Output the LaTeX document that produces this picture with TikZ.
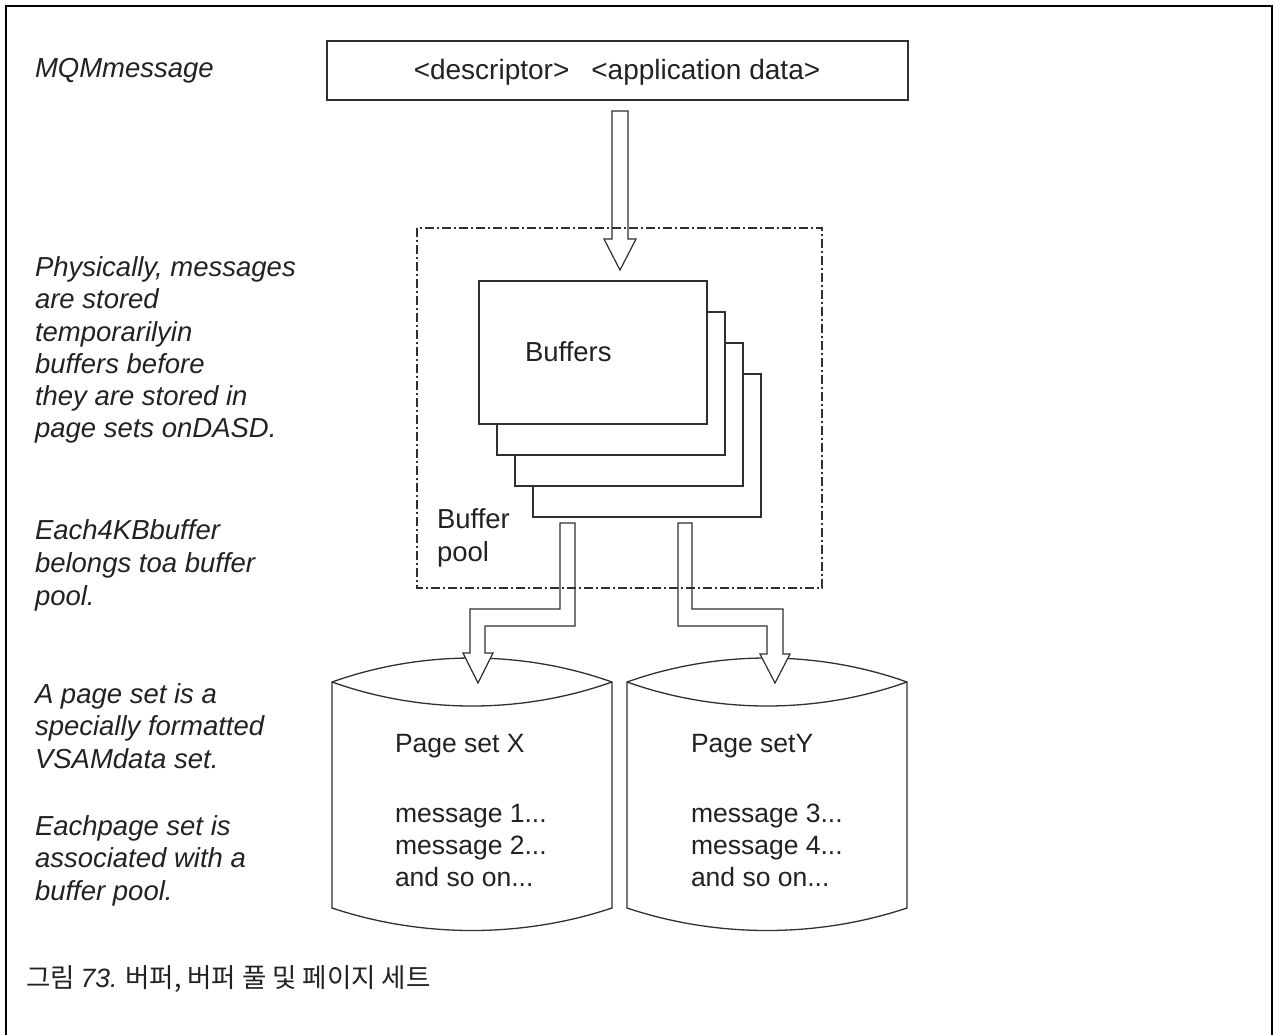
\documentclass[tikz,border=0pt]{standalone}
\usepackage{fontspec}
\setmainfont{Liberation Sans}
\newfontfamily\krfont{Noto Sans CJK KR}
\definecolor{ink}{HTML}{222222}
\definecolor{linec}{HTML}{303030}
\begin{document}
\begin{tikzpicture}[x=1pt,y=-1pt,
  every node/.style={inner sep=0pt, outer sep=0pt, text=ink},
  shape line/.style={draw=linec, line width=1.3pt, line join=miter},
  note/.style={anchor=base west, font=\fontsize{27.5}{31}\selectfont\itshape},
  body/.style={anchor=base west, font=\fontsize{26.5}{31}\selectfont},
  bufbox/.style={shape line, fill=white, rectangle, minimum width=228pt, minimum height=143pt, anchor=north west},
  blockarrow/.style={shape line, line width=1.2pt, fill=white},
  poolline/.style={draw=linec, line width=1.2pt, dash pattern=on 9pt off 3pt on 2pt off 3pt}]
\useasboundingbox (0,0) rectangle (1274,1034);
% outer frame
\draw[line width=2.6pt, black] (6,1040) -- (6,6) -- (1272,6) -- (1272,1040);

% top message box
\node[shape line, rectangle, minimum width=581pt, minimum height=59pt, anchor=north west] (msg) at (327,41) {};
\node[anchor=base, font=\fontsize{28}{31}\selectfont] (msgtext) at (617,79) {<descriptor>\hspace{22pt}<application data>};

% cylinders
\foreach \nm/\xl/\xr in {cylX/332/612, cylY/627/907}{
  \path[shape line, fill=white] (\xl,682) .. controls (\xl+90,650) and (\xr-90,650) .. (\xr,682)
     -- (\xr,908) .. controls (\xr-90,938) and (\xl+90,938) .. (\xl,908) -- cycle;
  \draw[shape line] (\xl,682) .. controls (\xl+90,714) and (\xr-90,714) .. (\xr,682);
  \coordinate (\nm) at ({(\xl+\xr)/2},682);
}

% buffers stack
\node[bufbox] (buf4) at (533,374) {};
\node[bufbox] (buf3) at (515,343) {};
\node[bufbox] (buf2) at (497,312) {};
\node[bufbox] (buf1) at (479,281) {};
\node[body, font=\fontsize{27.5}{31}\selectfont] (buftext) at (525,361) {Buffers};

% block arrows
\draw[blockarrow] (612,111) -- (628,111) -- (628,239) -- (636,239) -- (620,270) -- (604,239) -- (612,239) -- cycle;
\draw[blockarrow] (560,523) -- (575,523) -- (575,626) -- (485,626) -- (485,653) -- (493,653) -- (478,683) -- (463,653) -- (470,653) -- (470,609) -- (560,609) -- cycle;
\draw[blockarrow] (678,523) -- (692,523) -- (692,609) -- (783,609) -- (783,654) -- (790,654) -- (775,683) -- (760,654) -- (767,654) -- (767,626) -- (678,626) -- cycle;

% buffer pool
\draw[poolline] (417,228) rectangle (822,588);
\node[body, font=\fontsize{27.5}{31}\selectfont] (pool1) at (437,528) {Buffer};
\node[body, font=\fontsize{27.5}{31}\selectfont] (pool2) at (437,561) {pool};

% page set texts
\node[body] (psx) at (395,752) {Page set X};
\node[body] (m1) at (395,822) {message 1...};
\node[body] (m2) at (395,854) {message 2...};
\node[body] (m3) at (395,886) {and so on...};
\node[body] (psy) at (691,752) {Page setY};
\node[body] (m4) at (691,822) {message 3...};
\node[body] (m5) at (691,854) {message 4...};
\node[body] (m6) at (691,886) {and so on...};

% notes
\node[note] (n0) at (35,77) {MQMmessage};
\node[note] (n1a) at (35,276) {Physically, messages};
\node[note] (n1b) at (35,308) {are stored};
\node[note] (n1c) at (35,341) {temporarilyin};
\node[note] (n1d) at (35,373) {buffers before};
\node[note] (n1e) at (35,405) {they are stored in};
\node[note] (n1f) at (35,437) {page sets onDASD.};
\node[note] (n2a) at (35,539) {Each4KBbuffer};
\node[note] (n2b) at (35,572) {belongs toa buffer};
\node[note] (n2c) at (35,605) {pool.};
\node[note] (n3a) at (35,703) {A page set is a};
\node[note] (n3b) at (35,735) {specially formatted};
\node[note] (n3c) at (35,768) {VSAMdata set.};
\node[note] (n4a) at (35,835) {Eachpage set is};
\node[note] (n4b) at (35,867) {associated with a};
\node[note] (n4c) at (35,900) {buffer pool.};

% caption
\node[anchor=base west, font=\fontsize{26.5}{30}\selectfont] (cap) at (26,987) {\krfont 그림 {\rmfamily\itshape 73.} 버퍼, 버퍼 풀 및 페이지 세트};
\end{tikzpicture}
\end{document}
